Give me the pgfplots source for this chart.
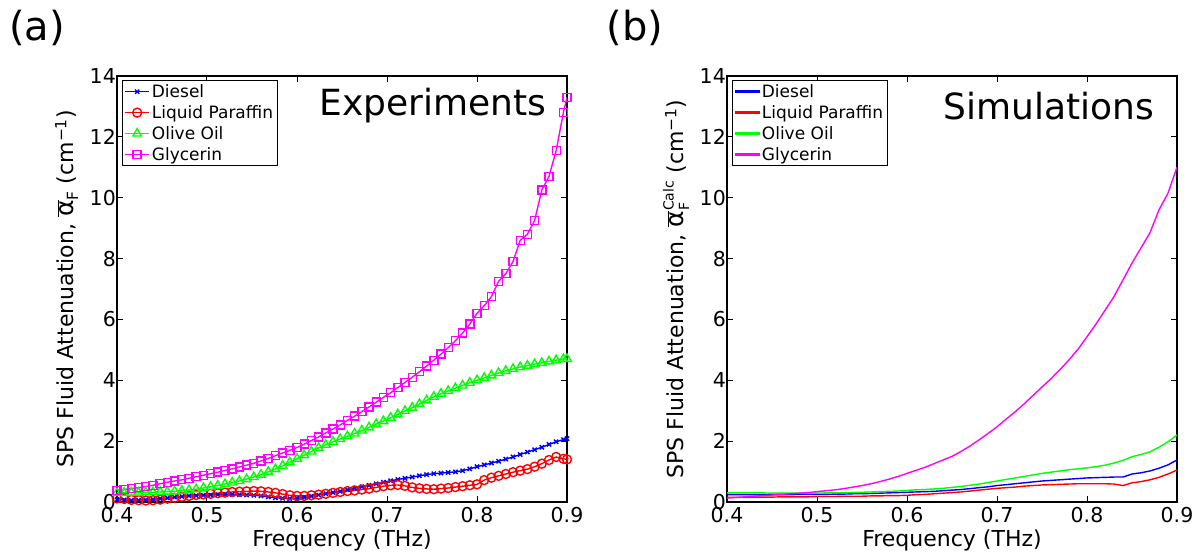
\documentclass[border=0pt]{standalone}
\usepackage{pgfplots}
\usepackage{pgfplotstable}
\usepackage{fontspec}
\setmainfont{DejaVu Sans}
\pgfplotsset{compat=1.18}
\definecolor{mblue}{RGB}{0,0,255}
\definecolor{mred}{RGB}{255,0,0}
\definecolor{mgreen}{RGB}{0,255,0}
\definecolor{mmag}{RGB}{255,0,255}

\pgfplotstableread{
f d p o g
0.400 0.08 0.12 0.30 0.38
0.408 0.07 0.10 0.30 0.41
0.416 0.06 0.07 0.31 0.44
0.424 0.06 0.06 0.31 0.47
0.432 0.07 0.05 0.32 0.51
0.440 0.09 0.06 0.32 0.55
0.448 0.11 0.08 0.33 0.60
0.456 0.13 0.11 0.34 0.65
0.464 0.16 0.14 0.35 0.69
0.472 0.18 0.17 0.37 0.73
0.480 0.20 0.20 0.39 0.78
0.488 0.21 0.23 0.42 0.83
0.496 0.22 0.25 0.46 0.88
0.504 0.23 0.27 0.50 0.93
0.512 0.24 0.29 0.54 0.98
0.520 0.25 0.31 0.59 1.04
0.528 0.25 0.33 0.64 1.09
0.536 0.24 0.34 0.69 1.15
0.544 0.23 0.35 0.75 1.21
0.552 0.22 0.36 0.82 1.27
0.560 0.20 0.35 0.90 1.35
0.568 0.17 0.33 0.99 1.43
0.576 0.14 0.30 1.08 1.52
0.584 0.12 0.26 1.19 1.61
0.592 0.11 0.22 1.30 1.70
0.600 0.12 0.20 1.42 1.79
0.608 0.15 0.20 1.54 1.90
0.616 0.19 0.22 1.66 2.02
0.624 0.23 0.24 1.78 2.14
0.632 0.27 0.27 1.88 2.27
0.640 0.31 0.30 1.98 2.40
0.648 0.35 0.33 2.07 2.53
0.656 0.40 0.36 2.16 2.68
0.664 0.45 0.38 2.25 2.82
0.672 0.50 0.41 2.35 2.97
0.680 0.55 0.44 2.45 3.12
0.688 0.60 0.48 2.56 3.28
0.696 0.65 0.52 2.66 3.44
0.704 0.70 0.55 2.77 3.59
0.712 0.74 0.56 2.88 3.76
0.720 0.78 0.53 2.99 3.93
0.728 0.82 0.48 3.10 4.10
0.736 0.86 0.45 3.22 4.28
0.744 0.90 0.43 3.34 4.47
0.752 0.93 0.42 3.46 4.66
0.760 0.95 0.44 3.56 4.86
0.768 0.97 0.46 3.65 5.07
0.776 0.99 0.49 3.74 5.30
0.784 1.03 0.52 3.83 5.55
0.792 1.09 0.55 3.92 5.85
0.800 1.16 0.58 4.00 6.20
0.808 1.22 0.72 4.08 6.45
0.816 1.28 0.80 4.16 6.75
0.824 1.34 0.86 4.24 7.25
0.832 1.41 0.92 4.31 7.50
0.840 1.48 0.98 4.37 7.90
0.848 1.56 1.03 4.43 8.60
0.856 1.64 1.08 4.48 8.80
0.864 1.72 1.16 4.53 9.25
0.872 1.80 1.26 4.57 10.25
0.880 1.89 1.38 4.62 10.70
0.888 1.98 1.48 4.66 11.55
0.896 2.05 1.42 4.70 12.80
0.900 2.08 1.40 4.70 13.30
}\expdata

\pgfplotstableread{
f d p o g
0.40 0.24 0.15 0.30 0.13
0.41 0.24 0.15 0.30 0.15
0.42 0.24 0.16 0.30 0.17
0.43 0.24 0.16 0.30 0.19
0.44 0.24 0.16 0.30 0.21
0.45 0.24 0.16 0.29 0.23
0.46 0.24 0.17 0.29 0.25
0.47 0.24 0.17 0.29 0.27
0.48 0.25 0.17 0.29 0.29
0.49 0.25 0.17 0.29 0.31
0.50 0.25 0.18 0.29 0.34
0.51 0.25 0.18 0.30 0.37
0.52 0.26 0.18 0.30 0.40
0.53 0.26 0.19 0.31 0.44
0.54 0.27 0.19 0.31 0.49
0.55 0.27 0.19 0.32 0.54
0.56 0.28 0.20 0.33 0.60
0.57 0.29 0.20 0.34 0.67
0.58 0.30 0.21 0.35 0.75
0.59 0.31 0.21 0.36 0.84
0.60 0.32 0.22 0.38 0.94
0.61 0.33 0.24 0.40 1.04
0.62 0.34 0.25 0.41 1.14
0.63 0.35 0.27 0.43 1.26
0.64 0.37 0.29 0.45 1.38
0.65 0.39 0.31 0.48 1.50
0.66 0.41 0.33 0.51 1.66
0.67 0.44 0.36 0.55 1.84
0.68 0.47 0.39 0.59 2.04
0.69 0.50 0.42 0.64 2.25
0.70 0.54 0.45 0.69 2.47
0.71 0.57 0.47 0.74 2.72
0.72 0.60 0.49 0.79 2.96
0.73 0.63 0.52 0.84 3.22
0.74 0.66 0.54 0.89 3.50
0.75 0.69 0.56 0.94 3.78
0.76 0.71 0.57 0.98 4.05
0.77 0.73 0.58 1.02 4.35
0.78 0.75 0.59 1.06 4.67
0.79 0.77 0.60 1.09 5.02
0.80 0.79 0.60 1.12 5.43
0.81 0.80 0.60 1.16 5.85
0.82 0.81 0.60 1.21 6.30
0.83 0.82 0.59 1.28 6.75
0.84 0.82 0.54 1.37 7.30
0.85 0.92 0.63 1.49 7.85
0.86 0.96 0.67 1.56 8.35
0.87 1.02 0.73 1.65 8.85
0.88 1.11 0.81 1.80 9.60
0.89 1.22 0.92 1.98 10.15
0.90 1.38 1.05 2.20 11.00
}\simdata

\pgfplotsset{
  mystyle/.style={
    scale only axis, width=450pt, height=426pt,
    xmin=0.4, xmax=0.9, ymin=0, ymax=14,
    xtick={0.4,0.5,0.6,0.7,0.8,0.9},
    ytick={0,2,4,6,8,10,12,14},
    /pgf/number format/assume math mode=true,
    xticklabel style={/pgf/number format/fixed,/pgf/number format/precision=1,/pgf/number format/fixed zerofill, yshift=-2pt},
    yticklabel style={inner sep=1pt},
    tick label style={font=\fontsize{20.5}{24}\selectfont},
    label style={font=\fontsize{22}{26}\selectfont},
    axis line style={line width=1.2pt},
    major tick length=6pt,
    every tick/.style={black, line width=1pt},
    xlabel={Frequency (THz)},
    xlabel style={at={(axis description cs:0.5,0)}, anchor=center, yshift=-38pt},
    legend style={at={(rel axis cs:0,1)}, anchor=north west, xshift=5pt, yshift=-4pt,
      font=\fontsize{17}{19}\selectfont, inner sep=2pt, line width=1pt,
      row sep=2.5pt, cells={anchor=west}},
    legend cell align=left,
    clip=true,
  }
}

\begin{document}
\begin{tikzpicture}
\path[use as bounding box] (-117pt,-52pt) rectangle (1085pt,502pt);
\begin{axis}[mystyle, at={(0pt,0pt)}, anchor=south west,
  legend image code/.code={\draw[mark repeat=2,mark phase=2,#1] plot coordinates {(0pt,0pt) (12pt,0pt) (24pt,0pt)};},
  ylabel={SPS Fluid Attenuation, \(\overline{\mbox{\fontsize{25}{26}\selectfont α}}\)\textsubscript{F} (cm\textsuperscript{−1})},
  ylabel style={at={(axis description cs:-0.0956,0.5)}, anchor=base, rotate=0}]
\addplot[color=mblue, line width=1.4pt, mark=x, mark size=3pt, mark options={solid}] table[x=f,y=d] {\expdata};
\addlegendentry{Diesel}
\addplot[color=mred, line width=1.4pt, mark=o, mark size=4.5pt, mark options={solid}] table[x=f,y=p] {\expdata};
\addlegendentry{Liquid Paraffin}
\addplot[color=mgreen, line width=1.4pt, mark=triangle, mark size=5pt, mark options={solid}] table[x=f,y=o] {\expdata};
\addlegendentry{Olive Oil}
\addplot[color=mmag, line width=1.4pt, mark=square, mark size=4pt, mark options={solid}] table[x=f,y=g] {\expdata};
\addlegendentry{Glycerin}
\node[anchor=east, font=\fontsize{36}{40}\selectfont] at (rel axis cs:0.962,0.93) {Experiments};
\end{axis}
\begin{axis}[mystyle, at={(610pt,0pt)}, anchor=south west,
  legend image code/.code={\fill[#1] (0pt,-0.8pt) rectangle (24pt,0.8pt);},
  ylabel={SPS Fluid Attenuation, \(\overline{\mbox{\fontsize{25}{26}\selectfont α}}^{\mbox{\fontsize{14}{16}\selectfont Calc}}_{\mbox{\fontsize{14}{16}\selectfont F}}\)\ (cm\textsuperscript{−1})},
  ylabel style={at={(axis description cs:-0.0956,0.5)}, anchor=base, rotate=0}]
\addplot[color=mblue, line width=1.4pt] table[x=f,y=d] {\simdata};
\addlegendentry{Diesel}
\addplot[color=mred, line width=1.4pt] table[x=f,y=p] {\simdata};
\addlegendentry{Liquid Paraffin}
\addplot[color=mgreen, line width=1.4pt] table[x=f,y=o] {\simdata};
\addlegendentry{Olive Oil}
\addplot[color=mmag, line width=1.4pt] table[x=f,y=g] {\simdata};
\addlegendentry{Glycerin}
\node[anchor=east, font=\fontsize{36}{40}\selectfont] at (rel axis cs:0.957,0.93) {Simulations};
\end{axis}
\node[font=\fontsize{40}{44}\selectfont] at (-80pt,474pt) {(a)};
\node[font=\fontsize{40}{44}\selectfont] at (518pt,474pt) {(b)};
\end{tikzpicture}
\end{document}
